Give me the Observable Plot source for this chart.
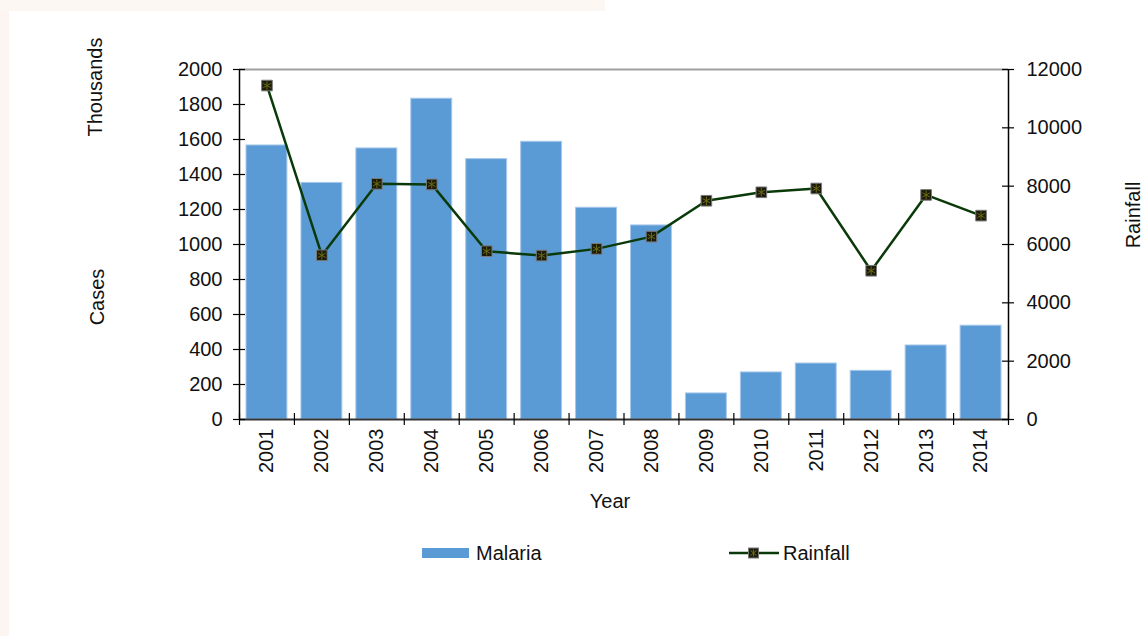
<!DOCTYPE html>
<html><head><meta charset="utf-8">
<script src="https://cdn.jsdelivr.net/npm/d3@7"></script>
<script src="https://cdn.jsdelivr.net/npm/@observablehq/plot@0.6"></script>
<style>
body{margin:0;background:#fff;font-family:"Liberation Sans",Arial,sans-serif;}
#wrap{position:relative;width:1143px;height:636px;overflow:hidden;background:#fff}
.strip-left{position:absolute;left:0;top:0;width:9px;height:636px;background:#fdf5f2}
.strip-top{position:absolute;left:0;top:0;width:605px;height:11px;background:#fdf7f4}
.lbl{position:absolute;font-size:20px;color:#111;white-space:nowrap;line-height:1}
.rot{transform:translate(-50%,-50%) rotate(-90deg)}
.ctr{transform:translate(-50%,-50%)}
.lft{transform:translate(0,-50%)}
#chart{position:absolute;left:0;top:0}
</style></head>
<body><div id="wrap">
<div class="strip-left"></div><div class="strip-top"></div>
<div id="chart"></div>
<div class="lbl rot" style="left:95px;top:87px">Thousands</div>
<div class="lbl rot" style="left:97px;top:297px">Cases</div>
<div class="lbl rot" style="left:1133px;top:215px">Rainfall</div>
<div class="lbl ctr" style="left:610px;top:501px">Year</div>
<div style="position:absolute;left:422px;top:548px;width:47px;height:10px;background:#5b9bd5"></div>
<div class="lbl lft" style="left:476px;top:553px">Malaria</div>
<svg style="position:absolute;left:729px;top:545px" width="50" height="16">
<line x1="0" y1="8" x2="50" y2="8" stroke="#0a3a0a" stroke-width="2.5"/>
<rect x="19.5" y="3" width="10" height="10" fill="#1c1c0c" stroke="#7a7a7a" stroke-width="1"/>
<path d="M24.5 4.5V11.5M21.5 5.5L27.5 10.5M27.5 5.5L21.5 10.5" stroke="#6b6b10" stroke-width="1"/>
</svg>
<div class="lbl lft" style="left:783px;top:553px">Rainfall</div>
</div>
<script>
const years = [2001, 2002, 2003, 2004, 2005, 2006, 2007, 2008, 2009, 2010, 2011, 2012, 2013, 2014];
const malaria = [1566, 1352, 1549, 1833, 1488, 1587, 1210, 1109, 149, 269, 320, 278, 423, 536];
const rainfall = [11450, 5630, 8080, 8060, 5770, 5620, 5850, 6270, 7500, 7790, 7920, 5100, 7700, 6990];
const leftTicks = [0, 200, 400, 600, 800, 1000, 1200, 1400, 1600, 1800, 2000];
const rightTicks = [0, 2000, 4000, 6000, 8000, 10000, 12000];

const ratio = rightTicks[rightTicks.length - 1] / leftTicks[leftTicks.length - 1];
const data = years.map((year, i) => ({year, malaria: malaria[i], rainfall: rainfall[i]}));
const x0 = years[0] - 0.5, x1 = years[years.length - 1] + 0.5;
const boundaries = years.map(y => y - 0.5).concat([x1]);
const rightPos = rightTicks.map(t => t / ratio);

const chart = Plot.plot({
  width: 1143, height: 520,
  marginLeft: 239, marginRight: 135, marginTop: 69, marginBottom: 101,
  x: {type: "linear", domain: [x0, x1]},
  y: {domain: [0, leftTicks[leftTicks.length - 1]]},
  style: {fontFamily: "Liberation Sans, Arial, sans-serif", fontSize: "20px", color: "#111", background: "transparent", overflow: "visible"},
  marks: [
    Plot.rectY(data, {x1: d => d.year - 0.5, x2: d => d.year + 0.5, y: "malaria", fill: "#5b9bd5", stroke: "#a9c9ec", strokeWidth: 1, insetLeft: 7, insetRight: 7}),
    Plot.ruleY([leftTicks[leftTicks.length - 1]], {stroke: "#a0a0a0", strokeWidth: 2}),
    Plot.ruleX([x0, x1], {stroke: "#000", strokeWidth: 1.5}),
    Plot.ruleY([0], {stroke: "#333", strokeWidth: 2}),
    Plot.ruleY(leftTicks, {x1: x0, x2: x0, insetLeft: -6, insetRight: -6, stroke: "#000", strokeWidth: 1.2}),
    Plot.ruleY(rightPos, {x1: x1, x2: x1, insetLeft: -6, insetRight: -6, stroke: "#000", strokeWidth: 1.2}),
    Plot.ruleX(boundaries, {y1: 0, y2: 0, insetTop: -6, insetBottom: -6, stroke: "#000", strokeWidth: 1.2}),
    Plot.axisY({anchor: "left", ticks: leftTicks, tickFormat: "d", tickSize: 0, tickPadding: 17, label: null}),
    Plot.axisY({anchor: "right", ticks: rightPos, tickFormat: d => String(Math.round(d * ratio)), tickSize: 0, tickPadding: 18, label: null}),
    Plot.axisX({ticks: years, tickFormat: "d", tickRotate: -90, tickSize: 0, tickPadding: 9, label: null}),
    Plot.lineY(data, {x: "year", y: d => d.rainfall / ratio, stroke: "#0a3a0a", strokeWidth: 2.5}),
    Plot.dot(data, {x: "year", y: d => d.rainfall / ratio, symbol: "square", r: 6, fill: "#1c1c0c", stroke: "#7a7a7a", strokeWidth: 1}),
    Plot.dot(data, {x: "year", y: d => d.rainfall / ratio, symbol: "asterisk", r: 4, stroke: "#6b6b10", strokeWidth: 1})
  ]
});
document.getElementById("chart").appendChild(chart);
</script>
</body></html>
